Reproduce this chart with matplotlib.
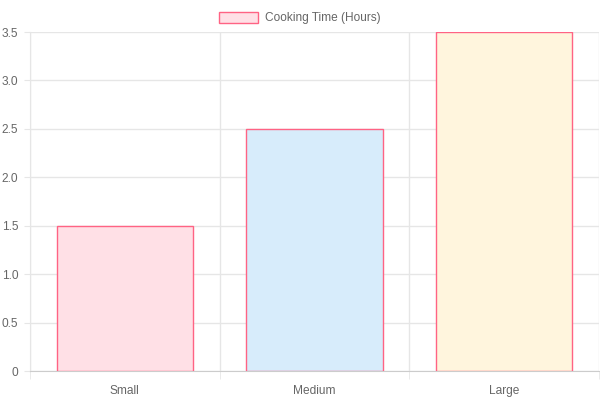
import matplotlib
matplotlib.use('Agg')
import matplotlib.pyplot as plt
from matplotlib.patches import Patch

sizes = ['Small', 'Medium', 'Large']
hours = [1.5, 2.5, 3.5]
fills = ['#ffe0e6', '#d7ecfb', '#fff5dd']
edge = '#ff6384'
label = 'Cooking Time (Hours)'

plt.rcParams['font.family'] = ['Liberation Sans', 'DejaVu Sans']
text_color = '#666666'
grid_color = '#e6e6e6'

fig = plt.figure(figsize=(6, 4), dpi=100)
ax = fig.add_axes([0.05, 0.0725, 0.9483, 0.8475])

x = range(len(sizes))
ax.bar(x, hours, width=0.72, color=fills, edgecolor=edge, linewidth=1, zorder=3)

ax.set_xlim(-0.5, len(sizes) - 0.5)
ax.set_ylim(0, 3.5)
ax.set_yticks([0, 0.5, 1.0, 1.5, 2.0, 2.5, 3.0, 3.5])
ax.set_yticklabels(['0', '0.5', '1.0', '1.5', '2.0', '2.5', '3.0', '3.5'])
ax.set_xticks(list(x))
ax.set_xticklabels(sizes)
ax.set_xticks([i - 0.5 for i in range(len(sizes) + 1)], minor=True)

ax.grid(True, axis='y', color=grid_color, linewidth=1, zorder=0)
ax.grid(True, axis='x', which='minor', color=grid_color, linewidth=1, zorder=0)

ax.tick_params(axis='x', which='major', length=0, pad=10, labelsize=8.6, labelcolor=text_color)
ax.tick_params(axis='x', which='minor', length=6, color=grid_color)
ax.tick_params(axis='y', length=4.5, color=grid_color, pad=4, labelsize=8.6, labelcolor=text_color)

for s in ['top', 'right']:
    ax.spines[s].set_visible(False)
ax.spines['left'].set_color(grid_color)
ax.spines['bottom'].set_color('#cccccc')

handle = Patch(facecolor=fills[0], edgecolor=edge, linewidth=1)
fig.legend([handle], [label], loc='upper center', bbox_to_anchor=(0.5, 1.0),
           frameon=False, fontsize=8.6, labelcolor=text_color,
           handlelength=3.3, handleheight=1.0, handletextpad=0.6, borderpad=0.5)

fig.savefig('out.png', dpi=100)
